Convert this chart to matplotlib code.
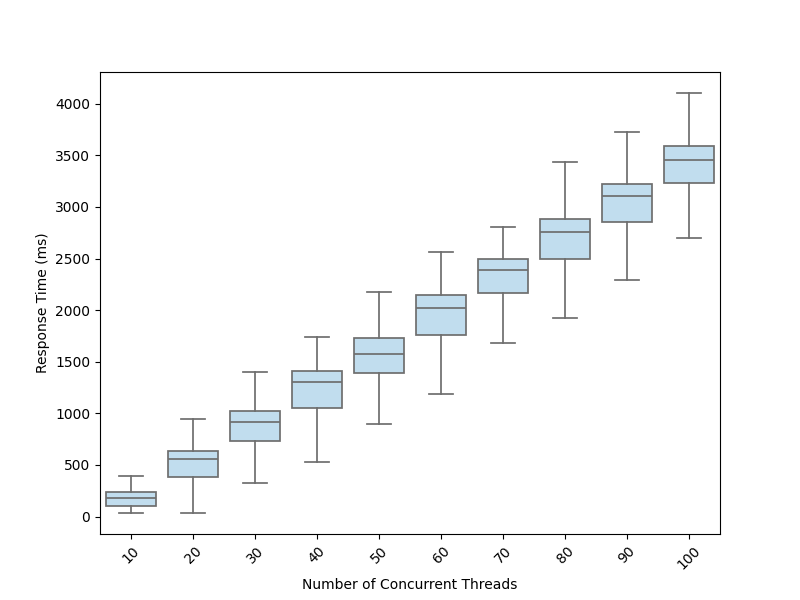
import matplotlib
matplotlib.use("Agg")
import matplotlib.pyplot as plt

threads = [10, 20, 30, 40, 50, 60, 70, 80, 90, 100]
# box stats (ms)
whisker_low = [35, 35, 326, 530, 897, 1188, 1682, 1924, 2292, 2699]
q1 = [103, 384, 733, 1052, 1391, 1756, 2166, 2496, 2854, 3232]
median = [181, 559, 913, 1307, 1576, 2021, 2389, 2757, 3106, 3455]
q3 = [235, 633, 1020, 1411, 1727, 2147, 2496, 2883, 3222, 3590]
whisker_high = [397, 949, 1404, 1740, 2179, 2563, 2809, 3438, 3726, 4103]

stats = []
for i, t in enumerate(threads):
    stats.append({"label": str(t), "whislo": whisker_low[i], "q1": q1[i],
                  "med": median[i], "q3": q3[i], "whishi": whisker_high[i],
                  "fliers": []})

fig, ax = plt.subplots(figsize=(8, 6), dpi=100)
line_col = "#6e6e6e"
lp = dict(color=line_col, linewidth=1.25)
ax.bxp(stats, positions=range(len(threads)), widths=0.8, capwidths=0.4,
       patch_artist=True, showfliers=False,
       boxprops=dict(facecolor="#c1ddee", edgecolor=line_col, linewidth=1.25),
       medianprops=lp, whiskerprops=lp, capprops=lp)

ax.set_xlim(-0.5, len(threads) - 0.5)
ax.set_xticks(range(len(threads)))
ax.set_xticklabels([str(t) for t in threads], rotation=45)
ax.set_xlabel("Number of Concurrent Threads")
ax.set_ylabel("Response Time (ms)")

fig.savefig("out.png")
